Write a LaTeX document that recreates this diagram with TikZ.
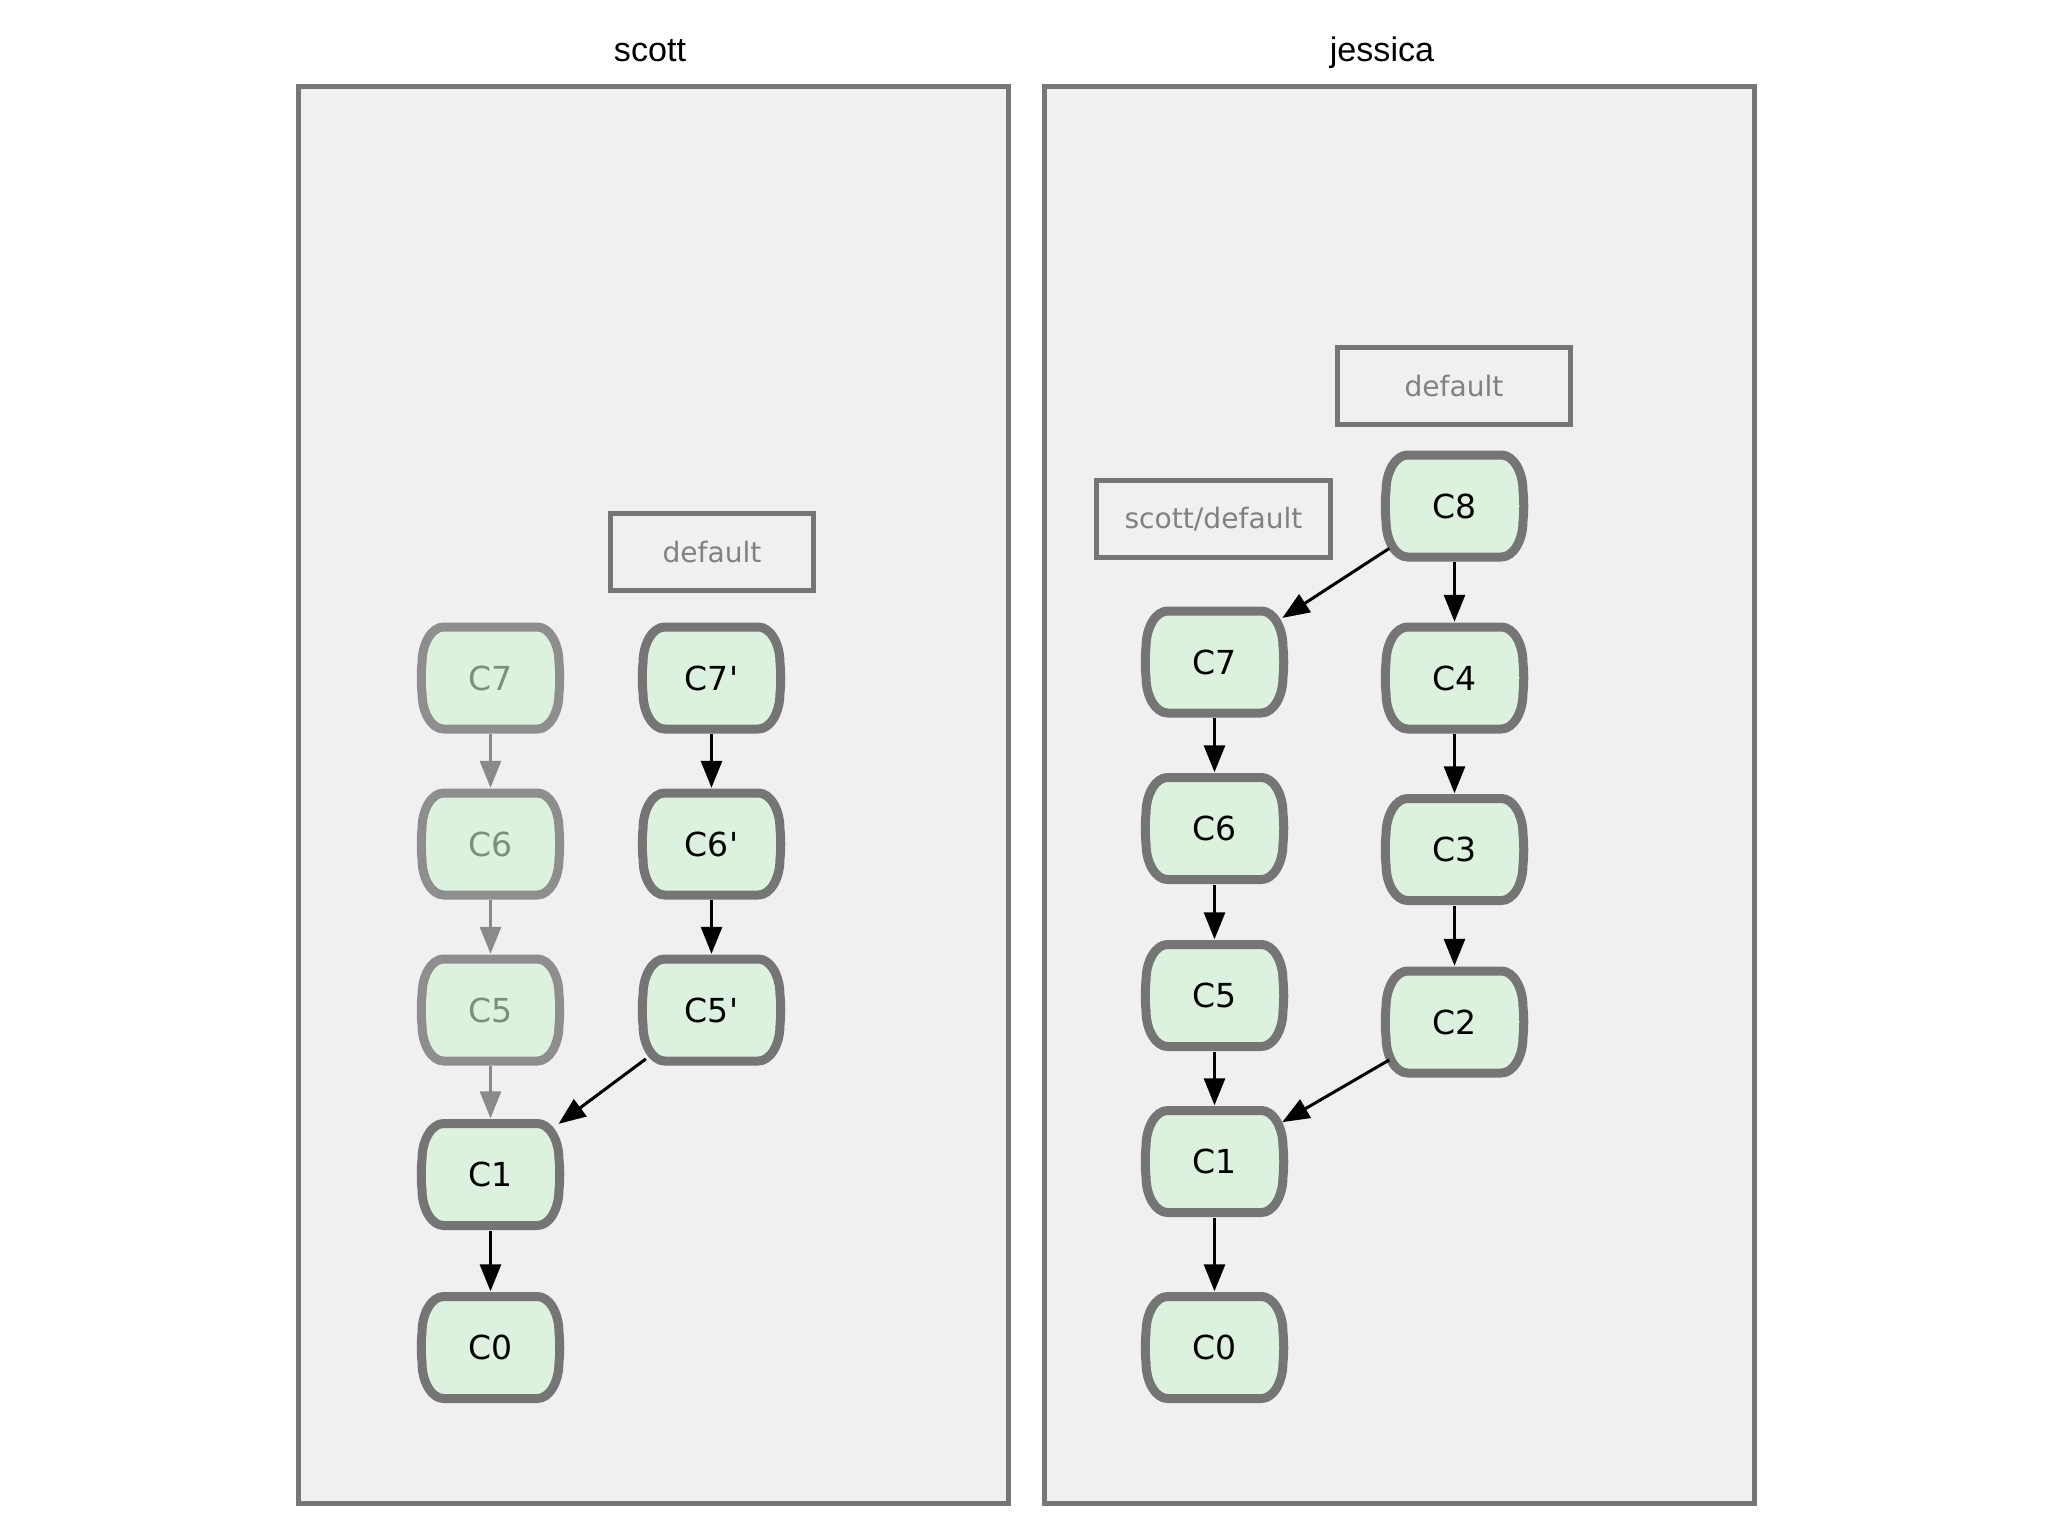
\documentclass[tikz,border=0pt]{standalone}
\usepackage{fontspec}
\setmainfont{DejaVu Sans}
\newfontfamily\titlefont{Liberation Sans}
\usetikzlibrary{arrows.meta}
\definecolor{panelfill}{HTML}{F0F0F0}
\definecolor{panelline}{HTML}{767676}
\definecolor{cfill}{HTML}{DDF2DE}
\definecolor{cline}{HTML}{757575}
\definecolor{cfline}{HTML}{8E8E8E}
\definecolor{cftext}{HTML}{7B907B}
\definecolor{labtext}{HTML}{818181}
\definecolor{farrow}{HTML}{8A8A8A}
\pgfdeclarelayer{bg}
\pgfdeclarelayer{mid}
\pgfsetlayers{bg,mid,main}
\tikzset{
 panel/.style={draw=panelline, fill=panelfill, line width=0.05cm, minimum width=7.095cm, minimum height=14.16cm, inner sep=0},
 title/.style={font=\titlefont\fontsize{9.7pt}{11pt}\selectfont, anchor=base, inner sep=0},
 cnode/.style={rectangle, minimum width=1.46cm, minimum height=1.11cm, inner sep=0, font=\fontsize{9.4pt}{10pt}\selectfont, text=black},
 cnodefaded/.style={cnode, text=cftext},
 barrel/.style={draw=cline, fill=cfill, line width=0.09cm, line join=round},
 barrelfaded/.style={barrel, draw=cfline},
 branch/.style={draw=cline, line width=0.05cm, inner sep=0, minimum height=0.76cm, text=labtext, font=\fontsize{8pt}{9pt}\selectfont},
 link/.style={-{Triangle[length=0.27cm,width=0.21cm]}, line width=0.03cm, color=black},
 linkfaded/.style={link, color=farrow},
 diag/.style={link, shorten <=-0.1cm, shorten >=-0.07cm},
}
\newcommand\pr{\textquotesingle}
% #1: "" or "faded", #2 name, #3 position, #4 text
\newcommand\commitnode[4]{%
  \node[cnode#1] (#2) at (#3) {#4};
  \begin{pgfonlayer}{mid}
    \draw[barrel#1, shift={(#2.center)}]
      (47,-51) .. controls (58.5,-51) and (68.5,-35) .. (68.5,-15)
      .. controls (69.5,-5) and (69.5,5) .. (68.5,15)
      .. controls (68.5,35) and (58.5,51) .. (47,51) -- (-47,51)
      .. controls (-58.5,51) and (-68.5,35) .. (-68.5,15)
      .. controls (-69.5,5) and (-69.5,-5) .. (-68.5,-15)
      .. controls (-68.5,-35) and (-58.5,-51) .. (-47,-51) -- cycle;
  \end{pgfonlayer}}
\begin{document}
\begin{tikzpicture}[x=0.01cm, y=-0.01cm]
\useasboundingbox (0,0) rectangle (2048,1536);
\begin{pgfonlayer}{bg}
  \fill[white] (0,0) rectangle (2048,1536);
  \node[panel] (pscott) at (653.25,795) {};
  \node[panel] (pjess) at (1399.25,795) {};
\end{pgfonlayer}
\node[title] (tscott) at (650,61) {scott};
\node[title] (tjess) at (1382,61) {jessica};

% scott
\node[branch, minimum width=2.03cm] (sdef) at (712,552) {default};
\commitnode{faded}{s7}{490.5,678}{C7}
\commitnode{faded}{s6}{490.5,844}{C6}
\commitnode{faded}{s5}{490.5,1010}{C5}
\commitnode{}{s7p}{711.5,678}{C7\pr}
\commitnode{}{s6p}{711.5,844}{C6\pr}
\commitnode{}{s5p}{711.5,1010}{C5\pr}
\commitnode{}{s1}{490.5,1174.5}{C1}
\commitnode{}{s0}{490.5,1347.5}{C0}
\draw[linkfaded] (s7) -- (s6);
\draw[linkfaded] (s6) -- (s5);
\draw[linkfaded] (s5) -- (s1);
\draw[link] (s7p) -- (s6p);
\draw[link] (s6p) -- (s5p);
\draw[diag] (s5p) -- (s1);
\draw[link] (s1) -- (s0);

% jessica
\node[branch, minimum width=2.33cm] (jdef) at (1454,386) {default};
\node[branch, minimum width=2.34cm] (jsdef) at (1213.5,519) {scott/default};
\commitnode{}{j8}{1454.5,506}{C8}
\commitnode{}{j4}{1454.5,678}{C4}
\commitnode{}{j3}{1454.5,849.5}{C3}
\commitnode{}{j2}{1454.5,1022}{C2}
\commitnode{}{j7}{1214.5,662}{C7}
\commitnode{}{j6}{1214.5,828.5}{C6}
\commitnode{}{j5}{1214.5,995.5}{C5}
\commitnode{}{j1}{1214.5,1161.5}{C1}
\commitnode{}{j0}{1214.5,1347.5}{C0}
\draw[diag] (j8) -- (j7);
\draw[link] (j8) -- (j4);
\draw[link] (j4) -- (j3);
\draw[link] (j3) -- (j2);
\draw[link] (j7) -- (j6);
\draw[link] (j6) -- (j5);
\draw[link] (j5) -- (j1);
\draw[diag] (j2) -- (j1);
\draw[link] (j1) -- (j0);
\end{tikzpicture}
\end{document}
